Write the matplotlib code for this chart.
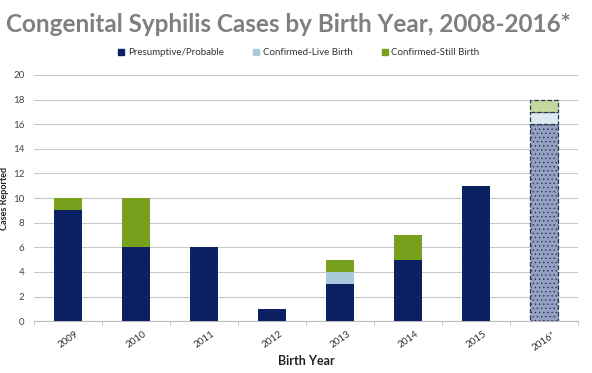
import numpy as np
import matplotlib
matplotlib.use('Agg')
import matplotlib.pyplot as plt
from matplotlib.patches import Patch

plt.rcParams['font.family'] = ['Lato', 'DejaVu Sans']
plt.rcParams['hatch.color'] = '#aab6cf'
plt.rcParams['hatch.linewidth'] = 0.5

years = ['2009', '2010', '2011', '2012', '2013', '2014', '2015', '2016*']
presumptive = [9, 6, 6, 1, 3, 5, 11, 16]
live_birth = [0, 0, 0, 0, 1, 0, 0, 1]
still_birth = [1, 4, 0, 0, 1, 2, 0, 1]

navy = '#0b2161'
light = '#a9cadb'
green = '#77a01c'

fig = plt.figure(figsize=(5.92, 3.73), dpi=100)
ax = fig.add_axes([0.058, 0.139, 0.918, 0.66])

x = np.arange(len(years))
w = 0.41
pres = np.array(presumptive, dtype=float)
live = np.array(live_birth, dtype=float)
still = np.array(still_birth, dtype=float)

# all years except the provisional one
n = len(years) - 1
ax.bar(x[:n], pres[:n], w, color=navy, zorder=3)
ax.bar(x[:n], live[:n], w, bottom=pres[:n], color=light, zorder=3)
ax.bar(x[:n], still[:n], w, bottom=pres[:n] + live[:n], color=green, zorder=3)

# 2016* provisional, hatched/dashed
ax.bar(x[n], pres[n], w, color='#93a2c2', edgecolor='#2a3550', linestyle='--',
       linewidth=0.9, hatch='....', zorder=3)
ax.bar(x[n], live[n], w, bottom=pres[n], color='#dde9f1', edgecolor='#2a3550',
       linestyle='--', linewidth=0.9, zorder=3)
ax.bar(x[n], still[n], w, bottom=pres[n] + live[n], color='#c5d89e', edgecolor='#2a3550',
       linestyle='--', linewidth=0.9, zorder=3)

ax.set_xlim(-0.5, len(years) - 0.5)
ax.set_ylim(0, 20)
ax.set_yticks(range(0, 21, 2))
ax.yaxis.grid(True, color='#c8c8c8', linewidth=0.8, zorder=0)
ax.tick_params(axis='y', length=0, labelsize=7, colors='#444444', pad=7)
ax.set_xticks(x)
ax.set_xticklabels(years, rotation=35, fontsize=7, color='#333333')
ax.tick_params(axis='x', length=0, pad=6)
ax.set_xticks(np.arange(-0.5, len(years), 1), minor=True)
ax.tick_params(axis='x', which='minor', length=3, color='#bbbbbb')
for s in ['top', 'right', 'left']:
    ax.spines[s].set_visible(False)
ax.spines['bottom'].set_color('#bbbbbb')

ax.set_xlabel('Birth Year', fontsize=9, fontweight='bold', color='#222222', labelpad=2)
ax.set_ylabel('Cases Reported', fontsize=6.5, fontweight='bold', color='#222222')
ax.yaxis.set_label_coords(0.016, 0.469, transform=fig.transFigure)

fig.text(0.01, 0.965, 'Congenital Syphilis Cases by Birth Year, 2008-2016*',
         fontsize=17.5, fontweight='bold', color='#7f7f7f', va='top', ha='left')

handles = [Patch(color=navy, label='Presumptive/Probable'),
           Patch(color=light, label='Confirmed-Live Birth'),
           Patch(color=green, label='Confirmed-Still Birth')]
fig.legend(handles=handles, loc='center', bbox_to_anchor=(0.505, 0.858), ncol=3,
           frameon=False, fontsize=7, handlelength=0.6, handleheight=0.6,
           handletextpad=0.4, columnspacing=3.0, labelcolor='#333333')

fig.savefig('out.png', dpi=100)
